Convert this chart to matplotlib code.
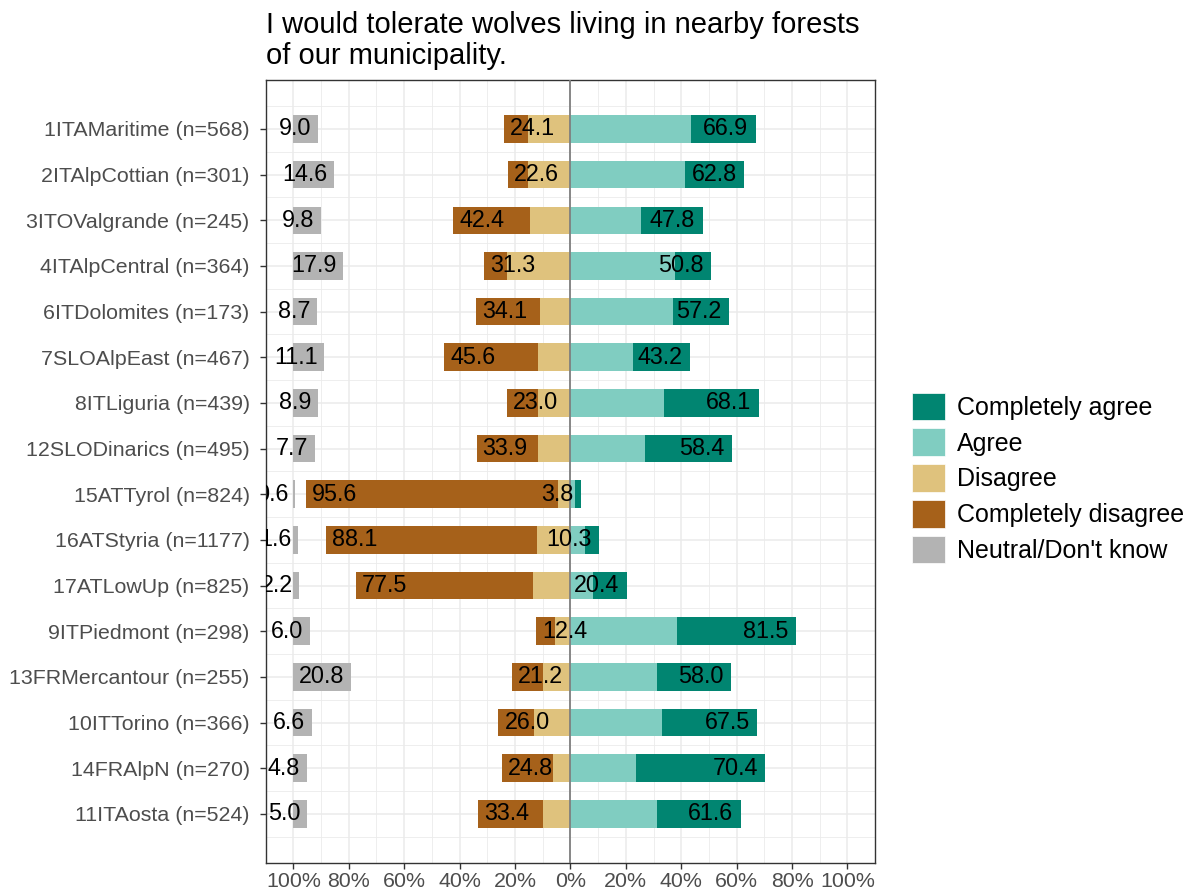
import numpy as np
import matplotlib
matplotlib.use("Agg")
import matplotlib.pyplot as plt
from matplotlib.patches import Patch

plt.rcParams["font.family"] = ["Liberation Sans", "DejaVu Sans"]

regions = [
    "1ITAMaritime (n=568)", "2ITAlpCottian (n=301)", "3ITOValgrande (n=245)",
    "4ITAlpCentral (n=364)", "6ITDolomites (n=173)", "7SLOAlpEast (n=467)",
    "8ITLiguria (n=439)", "12SLODinarics (n=495)", "15ATTyrol (n=824)",
    "16ATStyria (n=1177)", "17ATLowUp (n=825)", "9ITPiedmont (n=298)",
    "13FRMercantour (n=255)", "10ITTorino (n=366)", "14FRAlpN (n=270)",
    "11ITAosta (n=524)",
]
completely_agree = [23.5, 21.4, 22.5, 13.2, 20.2, 20.7, 34.4, 31.5, 2.2, 5.1, 12.2, 43.2, 26.9, 34.4, 46.9, 30.3]
agree = [43.4, 41.4, 25.3, 37.6, 37.0, 22.5, 33.7, 26.9, 1.6, 5.2, 8.2, 38.3, 31.1, 33.1, 23.5, 31.3]
disagree = [15.2, 15.2, 14.6, 22.8, 11.0, 11.7, 11.8, 11.8, 4.6, 12.2, 13.6, 5.6, 10.0, 13.2, 6.2, 9.8]
completely_disagree = [8.9, 7.4, 27.8, 8.5, 23.1, 33.9, 11.2, 22.1, 91.0, 75.9, 63.9, 6.8, 11.2, 12.8, 18.6, 23.6]
neutral = [9.0, 14.6, 9.8, 17.9, 8.7, 11.1, 8.9, 7.7, 0.6, 1.6, 2.2, 6.0, 20.8, 6.6, 4.8, 5.0]

x_ticks = [-100, -80, -60, -40, -20, 0, 20, 40, 60, 80, 100]
title = "I would tolerate wolves living in nearby forests\nof our municipality."

colors = {
    "Completely agree": "#018571",
    "Agree": "#80CDC1",
    "Disagree": "#DFC27D",
    "Completely disagree": "#A6611A",
    "Neutral/Don't know": "#B3B3B3",
}

ca = np.array(completely_agree)
ag = np.array(agree)
di = np.array(disagree)
cd = np.array(completely_disagree)
ne = np.array(neutral)
y = np.arange(len(regions))
h = 0.6

fig = plt.figure(figsize=(11.94, 8.94), dpi=100)
ax = fig.add_axes([0.2225, 0.035, 0.5105, 0.8755])

ax.barh(y, ag, left=0, height=h, color=colors["Agree"], zorder=2)
ax.barh(y, ca, left=ag, height=h, color=colors["Completely agree"], zorder=2)
ax.barh(y, -di, left=0, height=h, color=colors["Disagree"], zorder=2)
ax.barh(y, -cd, left=-di, height=h, color=colors["Completely disagree"], zorder=2)
ax.barh(y, ne, left=-100, height=h, color=colors["Neutral/Don't know"], zorder=2)
ax.axvline(0, color="#7F7F7F", lw=1.3, zorder=3)

# value labels
pos_tot = ag + ca
neg_tot = di + cd
for i in y:
    ax.text(pos_tot[i] - 2.8, i, f"{pos_tot[i]:.1f}", ha="right", va="center",
            fontsize=16.8, color="black", zorder=4, clip_on=True)
    ax.text(-neg_tot[i] + 2.2, i, f"{neg_tot[i]:.1f}", ha="left", va="center",
            fontsize=16.8, color="black", zorder=4, clip_on=True)
    ax.text(-100 + ne[i] - 2.4, i, f"{ne[i]:.1f}", ha="right", va="center",
            fontsize=16.8, color="black", zorder=4, clip_on=True)

ax.set_xlim(-110, 110)
ax.set_ylim(len(regions) - 1 + 1.07, -1.07)
ax.set_xticks(x_ticks)
ax.set_xticklabels([f"{abs(t)}%" for t in x_ticks])
ax.set_xticks(np.arange(-110, 111, 10), minor=True)
ax.set_yticks(y)
ax.set_yticklabels(regions)
ax.set_yticks(np.arange(-0.5, len(regions), 1), minor=True)

ax.grid(which="major", color="#EBEBEB", lw=1.1, zorder=0)
ax.grid(which="minor", color="#EBEBEB", lw=0.6, zorder=0)
ax.set_axisbelow(True)
ax.tick_params(which="minor", length=0)
ax.tick_params(which="major", labelsize=15.4, labelcolor="#4D4D4D",
               color="#333333", length=4, width=1)
ax.tick_params(axis="y", pad=7.5)
ax.tick_params(axis="x", pad=3)
for s in ax.spines.values():
    s.set_color("#333333")
    s.set_linewidth(1.0)

fig.text(0.2225, 0.988, title, ha="left", va="top", fontsize=21, color="black",
         linespacing=1.17)

handles = [Patch(facecolor=colors[k], edgecolor="white", lw=0.5) for k in colors]
fig.legend(handles, list(colors.keys()), loc="center left",
           bbox_to_anchor=(0.7636, 0.4653), frameon=False, fontsize=18,
           handlelength=1.32, handleheight=1.32, handletextpad=0.5,
           labelspacing=0.33, borderpad=0, borderaxespad=0)

fig.savefig("out.png", dpi=100)
